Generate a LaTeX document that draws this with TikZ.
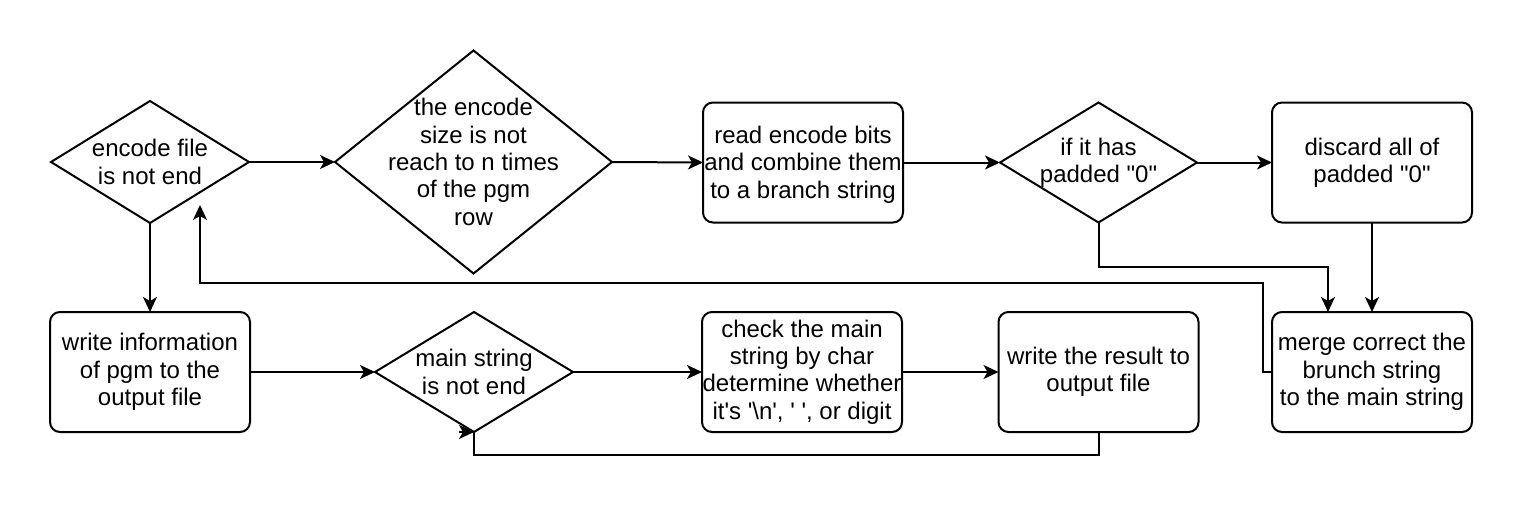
\documentclass[tikz,border=0pt]{standalone}
\usepackage{fontspec}
\setmainfont{Liberation Sans}
\usetikzlibrary{arrows.meta,shapes.geometric}
\begin{document}
\begin{tikzpicture}[x=1pt,y=-1pt,
  every node/.style={inner sep=0pt,outer sep=0pt},
  txt/.style={align=center,font=\fontsize{24}{27.3}\selectfont,text=black},
  box/.style={draw,line width=2pt,rounded corners=10pt,minimum width=200pt,minimum height=120pt},
  dia/.style={draw,line width=2pt,diamond,shape aspect=1},
  conn/.style={line width=2pt},
  arr/.style={conn,-{Stealth[length=15pt,width=14pt,inset=4pt]}}]
\useasboundingbox (0,0) rectangle (1524,522);
% top row
\node[dia,minimum width=198pt,minimum height=122pt] (D1) at (150,162) {};
\node[txt] (D1t) at (D1) {encode file\\is not end};
\node[dia,minimum width=277pt,minimum height=223pt] (D2) at (473.5,162) {};
\node[txt] (D2t) at (D2) {the encode\\size is not\\reach to n times\\of the pgm\\row};
\node[box] (B1) at (803,162.5) {};
\node[txt] (B1t) at ([yshift=-2pt]B1) {read encode bits\\and combine them\\to a branch string};
\node[dia,minimum width=197pt,minimum height=120pt] (D3) at (1098.5,162.5) {};
\node[txt] (D3t) at (D3) {if it has\\padded \textquotedbl 0\textquotedbl};
\node[box] (B2) at (1372,162.5) {};
\node[txt] (B2t) at (B2) {discard all of\\padded \textquotedbl 0\textquotedbl};
% bottom row
\node[box] (B4) at (150,372) {};
\node[txt] (B4t) at (B4) {write information\\of pgm to the\\output file};
\node[dia,minimum width=198pt,minimum height=120pt] (D4) at (474,372) {};
\node[txt] (D4t) at (D4) {main string\\is not end};
\node[box] (B5) at (802,372) {};
\node[txt] (B5t) at (B5) {check the main\\string by char\\determine whether\\it\textquotesingle s \textquotesingle\textbackslash n\textquotesingle, \textquotesingle\ \textquotesingle, or digit};
\node[box] (B6) at (1098.5,372) {};
\node[txt] (B6t) at (B6) {write the result to\\output file};
\node[box] (B3) at (1372,372) {};
\node[txt] (B3t) at (B3) {merge correct the\\brunch string\\to the main string};
% helper coordinates
\coordinate (fbx) at (200,283);
\coordinate (fbend) at (200,205);
\coordinate (pj) at (1328,267);
% connectors
\draw[arr] (D1.east) -- (D2.west);
\draw[arr] (D2.east) -- (B1.west);
\draw[arr] (B1.east) -- (D3.west);
\draw[arr] (D3.east) -- (B2.west);
\draw[arr] (D1.south) -- (B4.north);
\draw[arr] (B4.east) -- (D4.west);
\draw[arr] (D4.east) -- (B5.west);
\draw[arr] (B5.east) -- (B6.west);
\draw[arr] (D3.south) |- (pj) -- (pj |- B3.north);
\draw[arr] (B2.south) -- (B3.north);
\draw[arr] (B3.west) -- ++(-9,0) |- (fbx) -- (fbend);
\draw[conn] (B6.south) -- ++(0,23) -| (D4.south);
\draw[arr] ([xshift=-15pt]D4.south) -- (D4.south);
\end{tikzpicture}
\end{document}
